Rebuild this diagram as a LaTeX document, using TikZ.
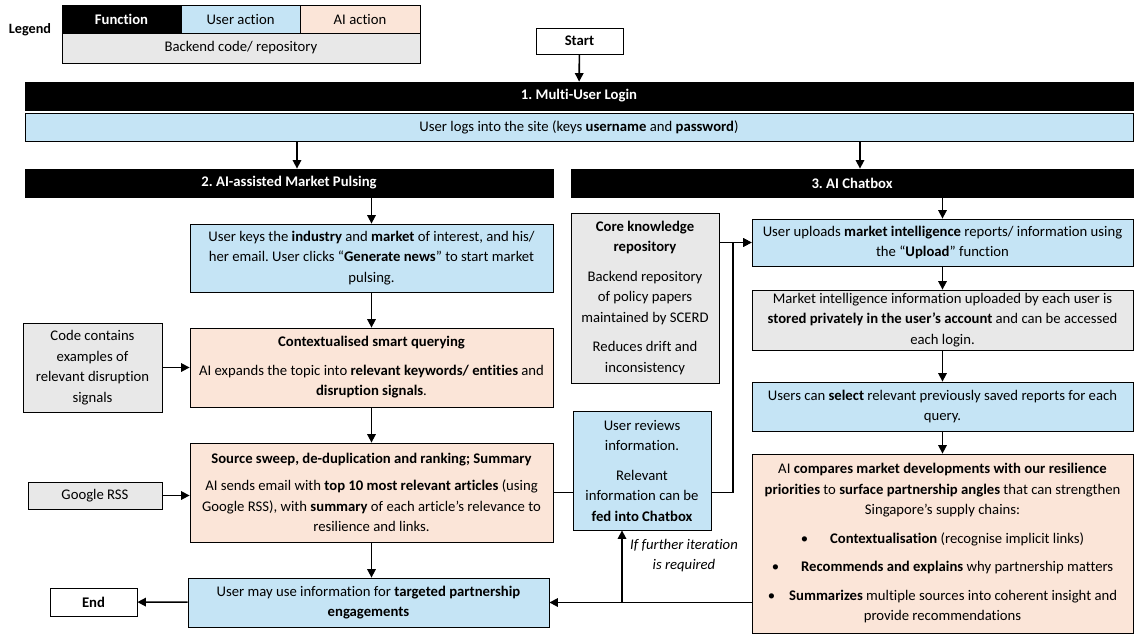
\documentclass[tikz,border=0pt]{standalone}
\usepackage{fontspec}
\setmainfont{Carlito}[Ligatures={NoCommon}]
\usetikzlibrary{arrows.meta}
\definecolor{userblue}{HTML}{C5E4F5}
\definecolor{aipeach}{HTML}{FBE5D8}
\definecolor{backgrey}{HTML}{E8E8E8}
\frenchspacing

\begin{document}
\begin{tikzpicture}[x=1pt, y=-1pt,
      box/.style={draw, line width=0.8pt, inner sep=0pt, align=center, font=\fontsize{14.7}{20.5}\selectfont},
      func/.style={box, fill=black, text=white, font=\bfseries\fontsize{14.7}{17}\selectfont, minimum height=28pt},
      user/.style={box, fill=userblue},
      ai/.style={box, fill=aipeach},
      back/.style={box, fill=backgrey},
      term/.style={box, fill=white, font=\bfseries\fontsize{14.7}{17}\selectfont},
      flow/.style={line width=1.6pt, -{Triangle[length=8.5pt,width=8.5pt]}},
      link/.style={line width=1.6pt}
      ]
      \useasboundingbox (0,0) rectangle (1144,643);
      \node[font=\bfseries\fontsize{14.2}{16}\selectfont] (lg) at (30,30) {Legend};
      \node[func, minimum width=119pt] (lgfunc) at (121.5,19) {Function};
      \node[user, minimum width=119pt, minimum height=28pt] (lguser) at (240.5,19) {User action};
      \node[ai, minimum width=120pt, minimum height=28pt] (lgai) at (360,19) {AI action};
      \node[back, minimum width=358pt, minimum height=30pt] (lgback) at (241,48) {Backend code/ repository};

      \node[term, minimum width=87pt, minimum height=26pt] (start) at (579.5,41) {Start};
      \node[func, minimum width=1108pt] (login) at (579,96) {1. Multi-User Login};
      \node[user, minimum width=1108pt, minimum height=28pt] (logs) at (579,127)
        {User logs into the site (keys \textbf{username} and \textbf{password})};
      \node[func, minimum width=528pt] (pulse) at (289,183) {2. AI-assisted Market Pulsing};
      \node[func, minimum width=562pt] (chat) at (852,183) {3. AI Chatbox};

      \node[user, minimum width=363pt, minimum height=68pt] (keys) at (371.5,258)
        {User keys the \textbf{industry} and \textbf{market} of interest, and his/\\her email. User clicks “\textbf{Generate news}” to start market\\pulsing.};
      \node[ai, minimum width=363pt, minimum height=79pt] (query) at (371.5,367.5)
        {\textbf{Contextualised smart querying}\\[8pt]AI expands the topic into \textbf{relevant keywords/ entities} and\\\textbf{disruption signals}.};
      \node[back, minimum width=139pt, minimum height=89pt] (signals) at (92.5,367.5)
        {Code contains\\examples of\\relevant disruption\\signals};
      \node[ai, minimum width=363pt, minimum height=99pt] (sweep) at (371.5,492.5)
        {\textbf{Source sweep, de-duplication and ranking; Summary}\\[7pt]AI sends email with \textbf{top 10 most relevant articles} (using\\Google RSS), with \textbf{summary} of each article’s relevance to\\resilience and links.};
      \node[back, minimum width=134pt, minimum height=27pt] (rss) at (95,495.5) {Google RSS};
      \node[user, minimum width=361pt, minimum height=49pt] (use) at (368.5,602.5)
        {User may use information for \textbf{targeted partnership}\\\textbf{engagements}};
      \node[term, minimum width=87pt, minimum height=28pt] (end) at (93.5,602) {End};

      \node[back, minimum width=148pt, minimum height=170pt] (core) at (645,298)
        {\textbf{Core knowledge}\\\textbf{repository}\\[9pt]Backend repository\\of policy papers\\maintained by SCERD\\[9pt]Reduces drift and\\inconsistency};
      \node[user, minimum width=138pt, minimum height=119pt] (review) at (642,470.5)
        {User reviews\\information.\\[9pt]Relevant\\information can be\\\textbf{fed into Chatbox}};
      \node[user, minimum width=381pt, minimum height=47pt] (upload) at (942.5,242.5)
        {User uploads \textbf{market intelligence} reports/ information using\\the “\textbf{Upload}” function};
      \node[back, minimum width=381pt, minimum height=60pt] (store) at (942.5,320)
        {Market intelligence information uploaded by each user is\\\textbf{stored privately in the user’s account} and can be accessed\\each login.};
      \node[user, minimum width=381pt, minimum height=49pt] (select) at (942.5,406.5)
        {Users can \textbf{select} relevant previously saved reports for each\\query.};
      \node[ai, minimum width=381pt, minimum height=179pt] (compare) at (942.5,543.5)
        {AI \textbf{compares market developments with our resilience}\\\textbf{priorities} to \textbf{surface partnership angles} that can strengthen\\Singapore’s supply chains:\\[8pt]\textbullet\hspace{22pt}\textbf{Contextualisation} (recognise implicit links)\\[8pt]\textbullet\hspace{22pt}\textbf{Recommends and explains} why partnership matters\\[8pt]\textbullet\hspace{14pt}\textbf{Summarizes} multiple sources into coherent insight and\\provide recommendations};
      \node[font=\itshape\fontsize{14.7}{20}\selectfont, align=center] (iter) at (684,556)
        {If further iteration\\is required};

      \draw[flow] (start) -- (login);
      \draw[flow] ([xshift=8pt]pulse.north |- logs.south) -- ([xshift=8pt]pulse.north);
      \draw[flow] ([xshift=8pt]chat.north |- logs.south) -- ([xshift=8pt]chat.north);
      \draw[flow] (pulse.south -| keys.north) -- (keys.north);
      \draw[flow] (keys) -- (query);
      \draw[flow] (query) -- (sweep);
      \draw[flow] (sweep.south) -- (sweep.south |- use.north);
      \draw[flow] (signals) -- (query);
      \draw[flow] (rss) -- (rss -| sweep.west);
      \draw[flow] (use) -- (end);
      \draw[flow] (chat.south -| upload.north) -- (upload);
      \draw[flow] (upload) -- (store);
      \draw[flow] (store) -- (select);
      \draw[flow] (select) -- (compare);
      \draw[flow] (core.east |- upload.west) -- (upload.west);
      \draw[link] (sweep.east) -- (sweep.east -| review.west);
      \coordinate (feed) at (733,492.5);
      \draw[flow] (review.east |- sweep.east) -- (feed) |- (upload.west);
      \draw[flow] (compare.west |- use.east) -- (use.east);
      \coordinate (again) at (622,602.5);
      \draw[flow] (again) -- (again |- review.south);
    \end{tikzpicture}
\end{document}
